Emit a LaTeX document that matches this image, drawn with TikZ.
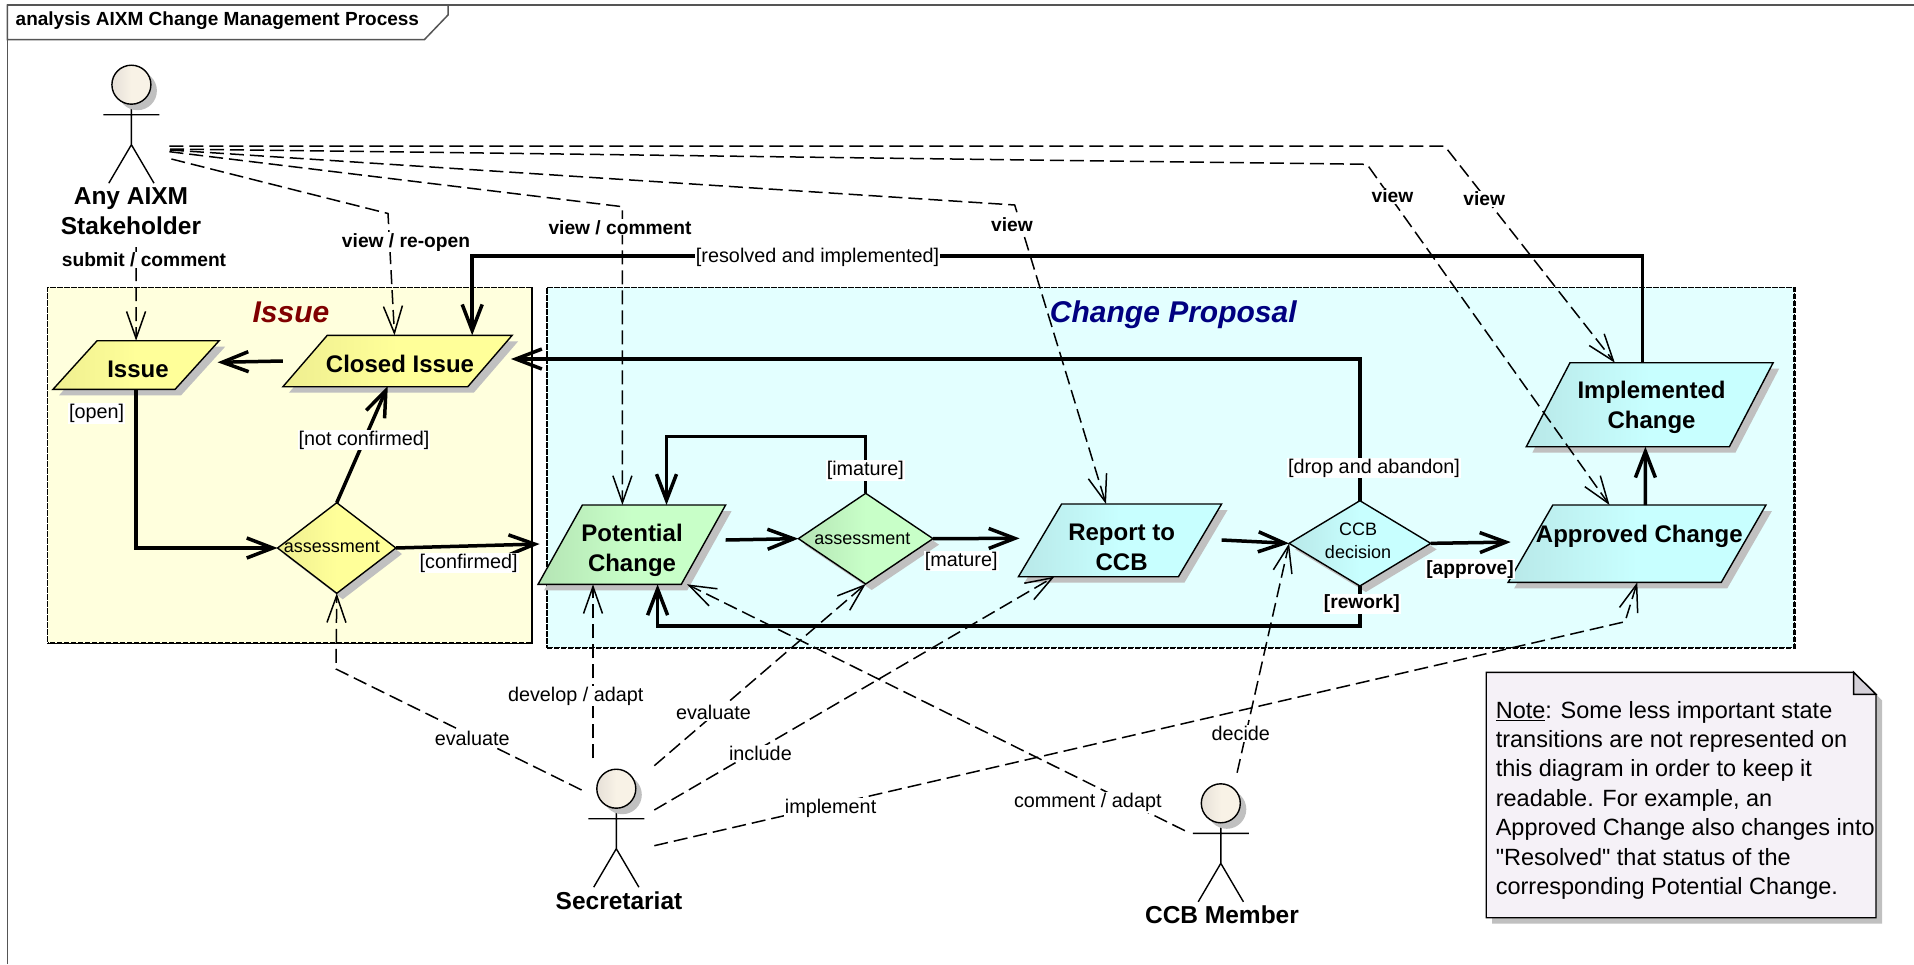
\documentclass[tikz,border=0pt]{standalone}
\usepackage{fontspec}
\usepackage{xcolor}
\usetikzlibrary{arrows.meta,shapes.geometric,shadows}
\setmainfont{Liberation Sans}
\newfontfamily\notefont{Liberation Sans}
\newcommand{\bodysize}[2]{\phantom{\rule{#1pt}{#2pt}}}

\definecolor{yellowl}{HTML}{FFFF99}
\definecolor{yellowd}{HTML}{EEEE90}
\definecolor{bluel}{HTML}{C8FFFF}
\definecolor{blued}{HTML}{B8E8E8}
\definecolor{greenl}{HTML}{C8FFC8}
\definecolor{greend}{HTML}{B4E4B4}
\definecolor{skinl}{HTML}{F8F2E6}
\definecolor{skind}{HTML}{E6E0D8}
\definecolor{issuebg}{HTML}{FFFFDD}
\definecolor{changebg}{HTML}{E3FFFF}
\definecolor{notebg}{HTML}{F5F1F7}
\definecolor{foldbg}{HTML}{D4D0D8}
\definecolor{shadowgrey}{HTML}{C0C0C0}
\definecolor{framegrey}{HTML}{555555}

\tikzset{
  shadowed/.style={drop shadow={shadow xshift=6pt,shadow yshift=-6pt,opacity=1,fill=shadowgrey}},
  pgram/.style={shape=trapezium,draw=black,line width=1.4pt,inner sep=0pt,outer sep=0pt,shadowed},
  decide/.style={shape=diamond,draw=black,line width=1.4pt,inner sep=0pt,outer sep=0pt,shadowed},
  yellowfill/.style={left color=yellowd,right color=yellowl,middle color=yellowl},
  bluefill/.style={left color=blued,right color=bluel,middle color=bluel},
  greenfill/.style={left color=greend,right color=greenl,middle color=greenl},
  region/.style={draw=black,line width=1.3pt,dash pattern=on 6pt off 1pt,inner sep=0pt,outer sep=0pt},
  regionedge/.style={draw=black,line width=2.2pt,dash pattern=on 5pt off 2pt},
  statetext/.style={font=\fontsize{24}{30}\selectfont\bfseries,align=center,inner sep=0pt},
  actorname/.style={font=\fontsize{24.5}{29.3}\selectfont\bfseries,align=center,inner sep=0pt},
  boldlabel/.style={font=\fontsize{19.2}{22}\selectfont\bfseries,fill=white,inner sep=1pt},
  plainlabel/.style={font=\fontsize{19.8}{22}\selectfont,fill=white,inner sep=1pt},
  difflabel/.style={font=\fontsize{18}{23.4}\selectfont,align=center,inner sep=0pt},
  regiontitle/.style={font=\fontsize{30}{36}\selectfont\bfseries\itshape,inner sep=0pt},
  flow/.style={line width=3.5pt,-{Straight Barb[length=26pt,width=20pt]}},
  dep/.style={line width=1.5pt,dash pattern=on 14pt off 6pt,-{Straight Barb[length=27pt,width=19pt]}},
  actorhead/.style={shape=circle,draw=black,line width=1.4pt,minimum size=39pt,inner sep=0pt,outer sep=0pt,left color=skind,right color=skinl,middle color=skinl,shadowed},
  actorline/.style={line width=1.4pt,line join=miter},
}

\begin{document}
\begin{tikzpicture}[x=1pt,y=-1pt]
  \useasboundingbox (0,0) rectangle (1914,964);
  \fill[white] (0,0) rectangle (1914,964);

  % Frame and title tab
  \draw[framegrey,line width=1.5pt] (7.3,964) -- (7.3,5) -- (1914,5);
  \draw[framegrey,line width=1.5pt,fill=white] (7.3,5) -- (448,5) -- (448,15) -- (424.5,39.5) -- (7.3,39.5) -- cycle;
  \node[font=\fontsize{19}{22}\selectfont\bfseries,anchor=west,inner sep=0pt] (frameTitle) at (15.5,20.7) {analysis AIXM Change Management Process};

  % Regions
  \node[region,fill=issuebg,minimum width=484.2pt,minimum height=356pt] (issueRegion) at (289.9,465.3) {};
  \node[region,fill=changebg,minimum width=1247.4pt,minimum height=360.4pt] (changeRegion) at (1170.7,467.5) {};
  \draw[regionedge] (issueRegion.north east) -- (issueRegion.south east) -- (issueRegion.south west);
  \draw[regionedge] (changeRegion.north east) -- (changeRegion.south east) -- (changeRegion.south west);
  \node[regiontitle,text=red!50!black] (issueTitle) at (291,312.3) {Issue};
  \node[regiontitle,text=blue!50!black] (changeTitle) at (1173.3,314.3) {Change Proposal};

  % States
  \node[pgram,yellowfill,trapezium left angle=47.8,trapezium right angle=132.2] (issue) at (136.1,365) {\bodysize{78}{48.6}};
  \node[pgram,yellowfill,trapezium left angle=49.2,trapezium right angle=130.8] (closed) at (397.55,361) {\bodysize{140.5}{51.4}};
  \node[pgram,greenfill,trapezium left angle=60.8,trapezium right angle=119.2] (potential) at (631.85,544.65) {\bodysize{98.9}{79.3}};
  \node[pgram,bluefill,trapezium left angle=59.3,trapezium right angle=120.7] (report) at (1120,540.35) {\bodysize{116.8}{72.7}};
  \node[pgram,bluefill,trapezium left angle=60,trapezium right angle=120] (approved) at (1637.05,543.65) {\bodysize{168.5}{77.3}};
  \node[pgram,bluefill,trapezium left angle=62.5,trapezium right angle=117.5] (implemented) at (1649.7,404.7) {\bodysize{159.4}{84}};

  % Decisions
  \node[decide,yellowfill,minimum width=118.3pt,minimum height=90.6pt] (asmtA) at (336.75,548) {};
  \node[decide,greenfill,minimum width=134.6pt,minimum height=90.7pt] (asmtB) at (865.7,538.65) {};
  \node[decide,bluefill,minimum width=141.6pt,minimum height=85.3pt] (ccb) at (1359.9,543.35) {};

  % State and decision texts
  \node[statetext] (issueText) at (138,369.7) {Issue};
  \node[statetext] (closedText) at (400,364.3) {Closed Issue};
  \node[statetext] (potentialText) at (632,550) {Potential\\Change};
  \node[statetext] (reportText) at (1121.6,547) {Report to\\CCB};
  \node[statetext] (approvedText) at (1639.3,536.3) {Approved Change};
  \node[statetext] (implementedText) at (1651.5,407.3) {Implemented\\Change};
  \node[difflabel] (asmtAText) at (331.8,547) {assessment};
  \node[difflabel] (asmtBText) at (862.4,538.3) {assessment};
  \node[difflabel] (ccbText) at (1358,541) {CCB\\decision};

  % Actors
  \foreach \nm/\hx/\hy in {any/131.4/84.7,sec/616.3/788.7,mem/1220.8/803.3} {
    \draw[actorline,shift={(\hx,\hy)}] (0,19.5) -- (0,60) (-28,30) -- (28,30) (-22.6,98.5) -- (0,60) -- (22.6,98.5);
    \node[actorhead] (\nm) at (\hx,\hy) {};
  }
  \node[actorname] (anyName) at (131,211.3) {Any AIXM\\Stakeholder};
  \node[actorname] (secName) at (619,900.7) {Secretariat};
  \node[actorname] (memName) at (1222,915) {CCB Member};

  % Free ends at the actors
  \coordinate (anySubmit) at (136,247);
  \coordinate (anyOutA) at (171.4,159);
  \coordinate (anyOutB) at (169.4,151.7);
  \coordinate (anyOutC) at (170,150);
  \coordinate (anyOutD) at (170,149);
  \coordinate (anyOutE) at (169.4,146);
  \coordinate (secOutA) at (581.6,790);
  \coordinate (secOutB) at (593,758.3);
  \coordinate (secOutC) at (654.3,765.7);
  \coordinate (secOutD) at (654.3,810);
  \coordinate (secOutE) at (654.3,845.7);
  \coordinate (memOutA) at (1184.9,830.7);
  \coordinate (memOutB) at (1237.1,772.7);

  % Dependencies
  \draw[dep] (anySubmit) -- ([shift={(0,-24.3)}]issue.center);
  \draw[dep] (anyOutA) -- (388,213.5) -- ([shift={(-3.05,-25.7)}]closed.center);
  \draw[dep] (anyOutB) -- (622.4,206.7) -- ([shift={(-9.45,-39.65)}]potential.center);
  \draw[dep] (anyOutC) -- (1014.7,205) -- ([shift={(-14,-36.35)}]report.center);
  \draw[dep] (anyOutD) -- (1367,164.3) -- ([shift={(-27.55,-38.65)}]approved.center);
  \draw[dep] (anyOutE) -- (1444.6,146) -- ([shift={(-34.9,-42)}]implemented.center);
  \draw[dep] (secOutA) -- (336,669) -- (asmtA.south);
  \draw[dep] (secOutB) -- ([shift={(-38.85,39.65)}]potential.center);
  \draw[dep] (secOutC) -- (asmtB.south);
  \draw[dep] (secOutD) -- ([shift={(-65.7,36.35)}]report.center);
  \draw[dep] (secOutE) -- (1625,621.7) -- ([shift={(0.25,38.65)}]approved.center);
  \draw[dep] (memOutA) -- ([shift={(55.15,39.65)}]potential.center);
  \draw[dep] (memOutB) -- (ccb.west);

  % Transitions
  \draw[flow] ([shift={(-114.65,0)}]closed.center) -- ([shift={(81.5,-2.7)}]issue.center);
  \draw[flow] ([shift={(0,24.3)}]issue.center) |- (asmtA.west);
  \draw[flow] (asmtA.north) -- ([shift={(-9.75,25)}]closed.center);
  \draw[flow] (asmtA.east) -- ([shift={(-92.25,-0.65)}]potential.center);
  \draw[flow] ([shift={(93.85,-4.65)}]potential.center) -- (asmtB.west);
  \draw[flow] (asmtB.east) -- ([shift={(-100.4,-2)}]report.center);
  \draw[flow] (asmtB.north) -- ++(0,-56.6) -| ([shift={(34.65,-39.65)}]potential.center);
  \draw[flow] ([shift={(101.6,-0.35)}]report.center) -- (ccb.west);
  \draw[flow] (ccb.east) -- ([shift={(-126.35,-1.6)}]approved.center);
  \draw[flow] (ccb.south) -- ++(0,40) -| ([shift={(25.75,39.65)}]potential.center);
  \draw[flow] (ccb.north) |- ([shift={(113.45,-2)}]closed.center);
  \draw[flow] ([shift={(8.35,-38.65)}]approved.center) -- ([shift={(-4.3,42)}]implemented.center);
  \draw[flow] ([shift={(-7.1,-42)}]implemented.center) -- ++(0,-106.7) -| ([shift={(74.65,-25.7)}]closed.center);

  % Labels on dependencies
  \node[boldlabel] (lblSubmit) at (144,260) {submit / comment};
  \node[boldlabel] (lblReopen) at (406,242.3) {view / re-open};
  \node[boldlabel] (lblComment) at (620,227.3) {view / comment};
  \node[boldlabel] (lblViewA) at (1012,225) {view};
  \node[boldlabel] (lblViewB) at (1392.4,196) {view};
  \node[boldlabel] (lblViewC) at (1484.2,199) {view};
  \node[plainlabel] (lblEvalA) at (472.2,738.3) {evaluate};
  \node[plainlabel] (lblDevelop) at (575.7,696) {develop / adapt};
  \node[plainlabel] (lblEvalB) at (713.5,712.3) {evaluate};
  \node[plainlabel] (lblInclude) at (760.4,753.3) {include};
  \node[plainlabel] (lblImplement) at (830.6,808.3) {implement};
  \node[plainlabel] (lblAdapt) at (1087.8,802.3) {comment / adapt};
  \node[plainlabel] (lblDecide) at (1240.8,733.3) {decide};

  % Labels on transitions
  \node[plainlabel] (lblOpen) at (96.7,413.5) {[open]};
  \node[plainlabel] (lblNotConf) at (364,440.2) {[not confirmed]};
  \node[plainlabel] (lblConf) at (468.6,563.2) {[confirmed]};
  \node[plainlabel] (lblMature) at (961.2,561.2) {[mature]};
  \node[plainlabel] (lblImature) at (865.3,470.5) {[imature]};
  \node[plainlabel] (lblDrop) at (1374,467.9) {[drop and abandon]};
  \node[plainlabel] (lblResolved) at (817.6,257) {[resolved and implemented]};
  \node[boldlabel] (lblApprove) at (1470,569.3) {[approve]};
  \node[boldlabel] (lblRework) at (1361.8,603.7) {[rework]};

  % Note
  \path[draw=black,line width=1.4pt,fill=notebg,shadowed] (1486.2,672.3) -- (1853.6,672.3) -- (1876,694.3) -- (1876,917.7) -- (1486.2,917.7) -- cycle;
  \draw[line width=1.4pt,fill=foldbg] (1853.6,672.3) -- (1853.6,694.3) -- (1876,694.3) -- cycle;
  \node[font=\notefont\fontsize{23.5}{29.4}\selectfont,align=left,anchor=west,inner sep=0pt] (noteText) at (1495.6,800.2) {\underline{Note}: Some less important state\\transitions are not represented on\\this diagram in order to keep it\\readable. For example, an\\Approved Change also changes into\\"Resolved" that status of the\\corresponding Potential Change.};
\end{tikzpicture}
\end{document}
